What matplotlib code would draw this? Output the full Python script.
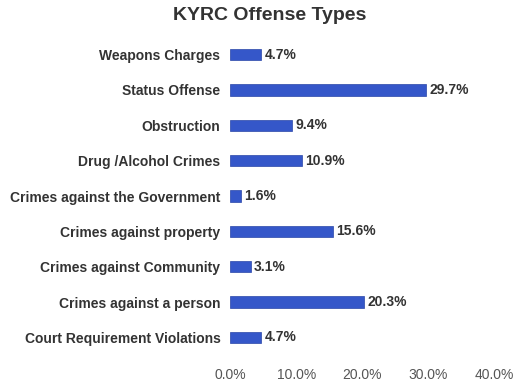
import matplotlib
matplotlib.use("Agg")
import matplotlib.pyplot as plt
from matplotlib.ticker import FuncFormatter

categories = ["Weapons Charges", "Status Offense", "Obstruction", "Drug /Alcohol Crimes",
              "Crimes against the Government", "Crimes against property",
              "Crimes against Community", "Crimes against a person",
              "Court Requirement Violations"]
values = [4.7, 29.7, 9.4, 10.9, 1.6, 15.6, 3.1, 20.3, 4.7]
ticks = [0, 10, 20, 30, 40]

plt.rcParams['font.family'] = ['Liberation Sans', 'DejaVu Sans']

fig = plt.figure(figsize=(5.28, 3.81), dpi=100)
ax = fig.add_axes([0.436, 0.068, 0.50, 0.835])

pos = list(range(len(categories)))
ax.barh(pos, values, height=0.32, color="#3557c9", edgecolor="#2a46a8", linewidth=0.5)
for p, v in zip(pos, values):
    ax.text(v + 0.5, p, "{:.1f}%".format(v), va="center", ha="left",
            fontsize=10, fontweight="bold", color="#333333")

ax.set_yticks(pos)
ax.set_yticklabels(categories, fontsize=10, fontweight="bold", color="#333333")
ax.set_ylim(len(categories) - 0.5, -0.5)
ax.set_xlim(0, 40)
ax.set_xticks(ticks)
ax.xaxis.set_major_formatter(FuncFormatter(lambda x, _: "{:.1f}%".format(x)))
ax.tick_params(axis="x", labelsize=10, colors="#555555", length=0, pad=9)
ax.tick_params(axis="y", length=0, pad=7)
for s in ax.spines.values():
    s.set_visible(False)

fig.suptitle("KYRC Offense Types", x=0.51, y=0.982, fontsize=14,
             fontweight="bold", color="#333333")

fig.savefig("out.png", dpi=100)
